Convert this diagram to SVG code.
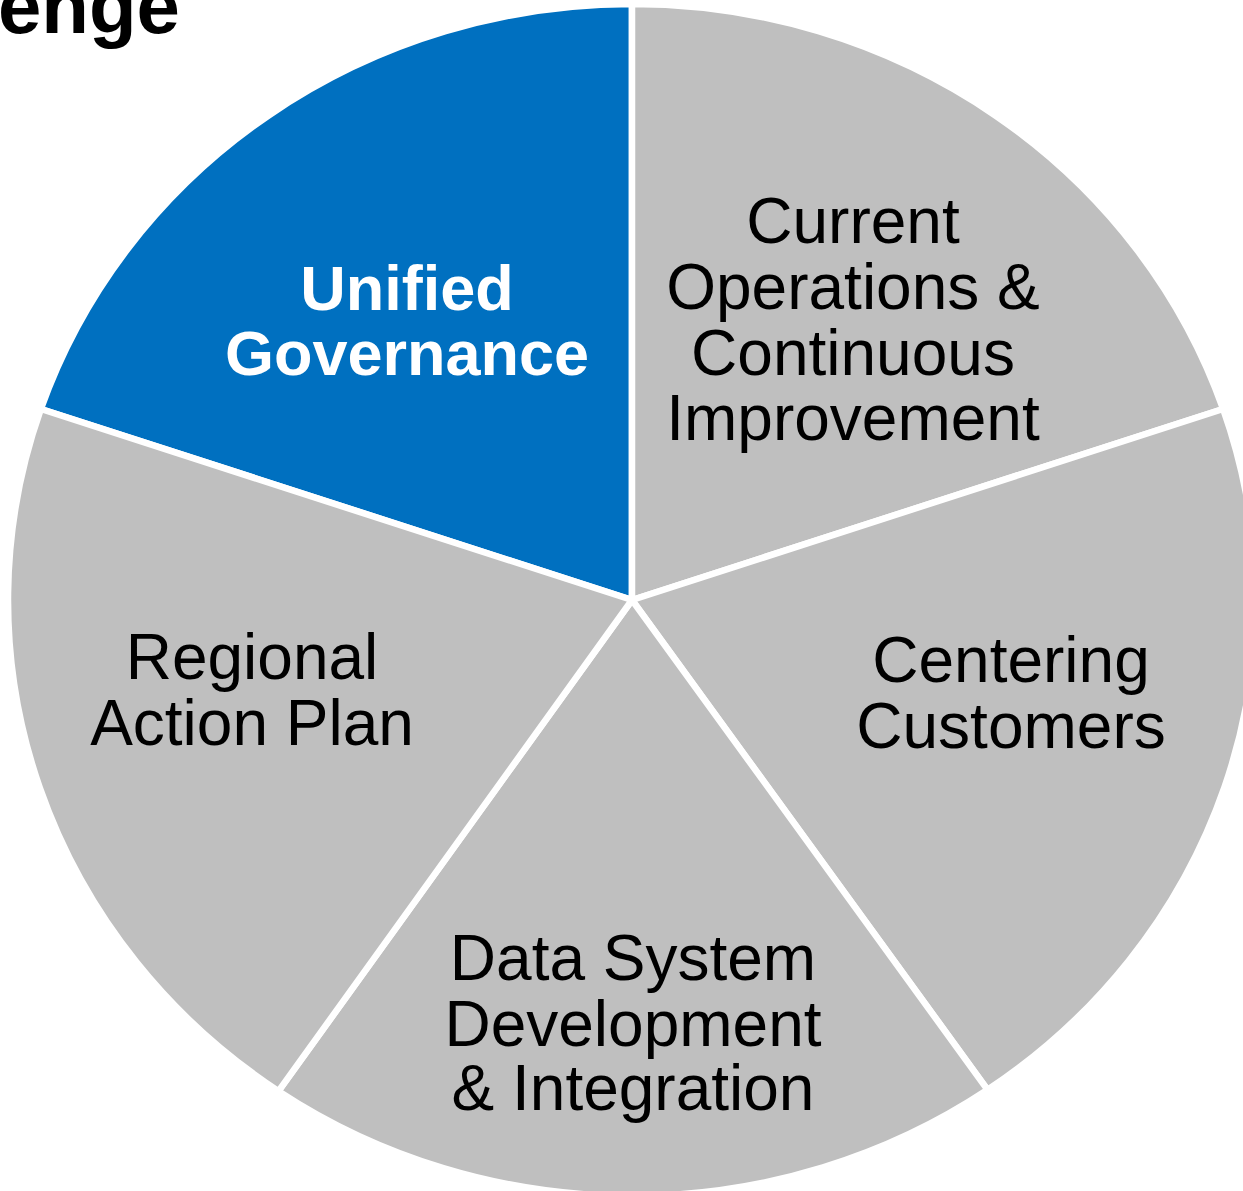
<svg xmlns="http://www.w3.org/2000/svg" width="1243" height="1191" viewBox="0 0 1243 1191">
  <style>
    .slice { stroke: #FFFFFF; stroke-width: 6.5; stroke-linejoin: miter; }
    .grey { fill: #BFBFBF; }
    .blue { fill: #0070C0; }
    .lbl { font-family: "Liberation Sans", Arial, sans-serif; font-size: 64px; fill: #000000; text-anchor: middle; }
    .lbl-key { font-family: "Liberation Sans", Arial, sans-serif; font-size: 63px; font-weight: bold; fill: #FFFFFF; text-anchor: middle; }
    .title { font-family: "Liberation Sans", Arial, sans-serif; font-size: 78px; font-weight: bold; fill: #000000; }
  </style>
  <rect width="1243" height="1191" fill="#FFFFFF"/>

  <!-- heading, partly outside the page -->
  <text class="title" x="180" y="33" text-anchor="end">enge</text>

  <!-- five-part pie, centre (632,600) -->
  <g id="unified-governance">
    <path class="slice blue" d="M632,600 L40.9,409 A624,596 0 0 1 632,4 Z"/>
    <text class="lbl-key" x="407" y="310">Unified</text>
    <text class="lbl-key" x="407" y="375">Governance</text>
  </g>
  <g id="current-operations">
    <path class="slice grey" d="M632,600 L632,4 A624,596 0 0 1 1223.1,409 Z"/>
    <text class="lbl" x="853" y="243">Current</text>
    <text class="lbl" x="853" y="309">Operations &amp;</text>
    <text class="lbl" x="853" y="375">Continuous</text>
    <text class="lbl" x="853" y="440">Improvement</text>
  </g>
  <g id="centering-customers">
    <path class="slice grey" d="M632,600 L1223.1,409 A624,596 0 0 1 987.6,1089.8 Z"/>
    <text class="lbl" x="1011" y="682">Centering</text>
    <text class="lbl" x="1011" y="748">Customers</text>
  </g>
  <g id="data-system">
    <path class="slice grey" d="M632,600 L987.6,1089.8 A624,596 0 0 1 278.5,1091.1 Z"/>
    <text class="lbl" x="633" y="980">Data System</text>
    <text class="lbl" x="633" y="1046">Development</text>
    <text class="lbl" x="633" y="1110">&amp; Integration</text>
  </g>
  <g id="regional-action-plan">
    <path class="slice grey" d="M632,600 L278.5,1091.1 A624,596 0 0 1 40.9,409 Z"/>
    <text class="lbl" x="252" y="679">Regional</text>
    <text class="lbl" x="252" y="745">Action Plan</text>
  </g>
</svg>
